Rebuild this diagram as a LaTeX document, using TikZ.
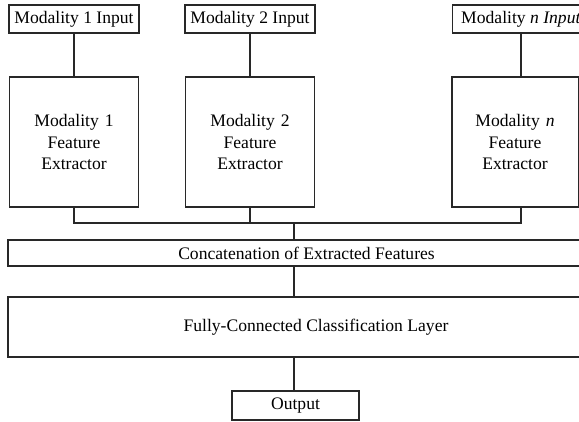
\documentclass[tikz,border=0pt]{standalone}
\usepackage{fontspec}
\setmainfont{Liberation Serif}
\usepackage{tikz}
\usetikzlibrary{positioning, calc}
\definecolor{mydark}{RGB}{40,40,40}
\tikzset{
  inbox/.style={rectangle,draw=mydark,minimum width=88.7pt,minimum height=19.1pt,
    inner sep=1pt,font=\fontsize{12}{14.7}\selectfont,line width=0.75pt},
  extbox/.style={rectangle,draw=mydark,minimum width=88pt,minimum height=88.7pt,
    text width=80pt,align=center,inner sep=1pt,font=\fontsize{12}{14.7}\selectfont,line width=0.75pt},
  widebox/.style={rectangle,draw=mydark,inner sep=1pt,
    font=\fontsize{12}{14.7}\selectfont,line width=0.75pt},
  line/.style={line width=0.7pt,color=mydark}
}
\begin{document}
\begin{tikzpicture}[x=0.682pt,y=-0.682pt]
  \useasboundingbox (0,0) rectangle (579,422);
  % ── Inputs ────────────────────────────────────────────────────────────────
  \node[inbox] (in1) at (74,19) {Modality 1 Input};
  \node[inbox] (in2) at (250,19) {Modality 2 Input};
  \node[inbox, minimum width=94pt] (inn) at (521,19) {Modality \textit{n Input}};

  % ── Feature extractors ───────────────────────────────────────────────────
  \node[extbox] (ext1) at (74,142) {Modality 1\\Feature\\Extractor};
  \node[extbox] (ext2) at (250,142) {Modality 2\\Feature\\Extractor};
  \node[extbox, minimum width=86pt] (extn) at (515,142) {Modality \textit{n}\\Feature\\Extractor};

  % ── Concatenation, classifier and output (right edges run off the page) ──
  \node[widebox, minimum width=407.2pt, minimum height=17.7pt] (concat) at (306.5,253)
    {Concatenation of Extracted Features};
  \node[widebox, minimum width=420.1pt, minimum height=40.9pt] (fc) at (316,327)
    {Fully-Connected Classification Layer};
  \node[inbox, minimum width=86.6pt, minimum height=19.8pt] (out) at (295.5,405.5) {Output};

  % ── Connectors ───────────────────────────────────────────────────────────
  \draw[line] (in1) -- (ext1);
  \draw[line] (in2) -- (ext2);
  \draw[line] (inn.south) -- (inn.south |- extn.north);
  \coordinate (jn) at (294,223);
  \draw[line] (ext1.south) -- (ext1.south |- jn) -- (inn.south |- jn) -- (inn.south |- extn.south);
  \draw[line] (ext2.south) -- (ext2.south |- jn);
  \draw[line] (jn) -- (jn |- concat.north);
  \draw[line] (jn |- concat.south) -- (jn |- fc.north);
  \draw[line] (jn |- fc.south) -- (jn |- out.north);
\end{tikzpicture}
\end{document}
